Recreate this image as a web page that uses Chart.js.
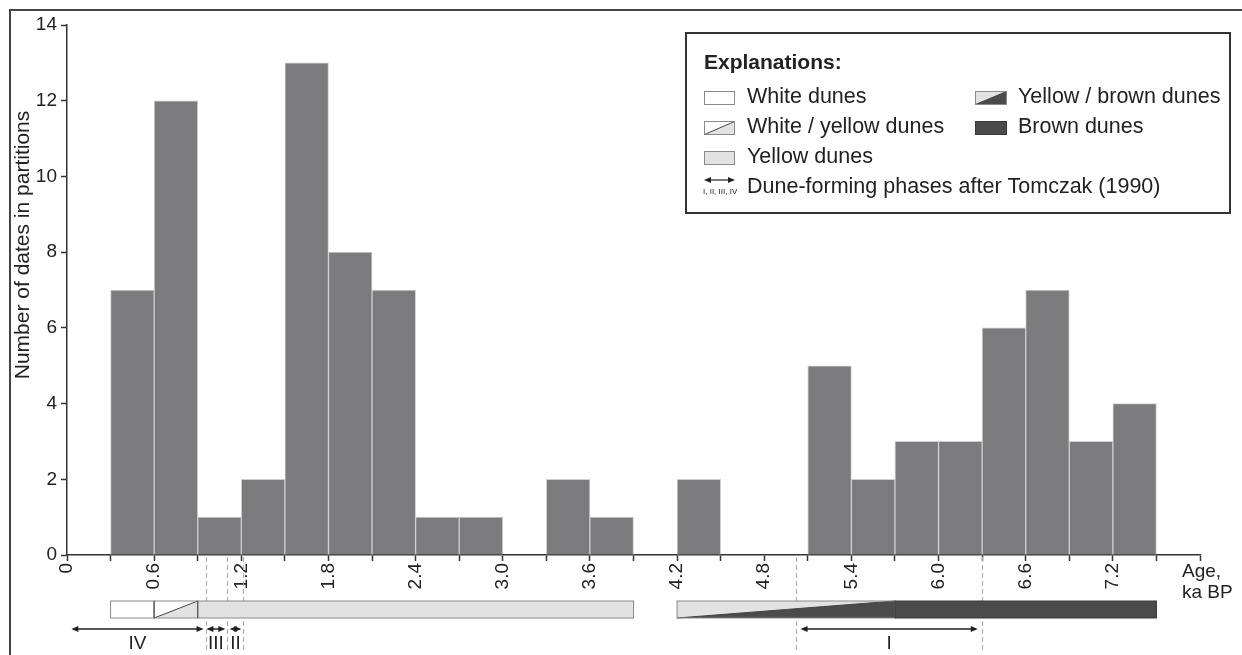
<!DOCTYPE html>
<html>
<head>
<meta charset="utf-8">
<script src="https://cdn.jsdelivr.net/npm/chart.js@4.4.0/dist/chart.umd.min.js"></script>
<style>
  body { margin: 0; background: #fff; }
  #wrap { width: 1242px; height: 655px; }
</style>
</head>
<body>
<div id="wrap"><canvas id="grafico"></canvas></div>
<script>
// dados
const binStarts = [0.3, 0.6, 0.9, 1.2, 1.5, 1.8, 2.1, 2.4, 2.7, 3.0, 3.3, 3.6, 3.9, 4.2, 4.5, 4.8, 5.1, 5.4, 5.7, 6.0, 6.3, 6.6, 6.9, 7.2];
const counts = [7, 12, 1, 2, 13, 8, 7, 1, 1, 0, 2, 1, 0, 2, 0, 0, 5, 2, 3, 3, 6, 7, 3, 4];
const binWidth = 0.3;

const xTicks = [0, 0.3, 0.6, 0.9, 1.2, 1.5, 1.8, 2.1, 2.4, 2.7, 3.0, 3.3, 3.6, 3.9, 4.2, 4.5, 4.8, 5.1, 5.4, 5.7, 6.0, 6.3, 6.6, 6.9, 7.2, 7.5, 7.8];
const xTickLabels = ['0', '', '0.6', '', '1.2', '', '1.8', '', '2.4', '', '3.0', '', '3.6', '', '4.2', '', '4.8', '', '5.4', '', '6.0', '', '6.6', '', '7.2', '', ''];
const yTicks = [0, 2, 4, 6, 8, 10, 12, 14];

// faixas de dunas sob o eixo: [inicio, fim, tipo]
const duneBands = [
  [0.3, 0.6, 'white'],
  [0.6, 0.9, 'whiteYellow'],
  [0.9, 3.9, 'yellow'],
  [4.2, 5.7, 'yellowBrown'],
  [5.7, 7.5, 'brown']
];
// fases de Tomczak (1990): [inicio, fim, nome]
const phases = [
  [0.03, 0.94, 'IV'],
  [0.96, 1.09, 'III'],
  [1.12, 1.2, 'II'],
  [5.05, 6.27, 'I']
];
const phaseLimits = [0.96, 1.1, 1.21, 5.02, 6.3];

const legendLeft = [
  ['white', 'White dunes'],
  ['whiteYellow', 'White / yellow dunes'],
  ['yellow', 'Yellow dunes']
];
const legendRight = [
  ['yellowBrown', 'Yellow / brown dunes'],
  ['brown', 'Brown dunes']
];

const FONTE = '"Liberation Sans", Arial, sans-serif';
const AMARELO = '#e2e2e2';
const MARROM = '#4b4b4b';

function desenharBloco(ctx, x1, y1, x2, y2, tipo) {
    ctx.save();
    ctx.lineWidth = 1;
    if (tipo == 'white' || tipo == 'yellow') {
        ctx.fillStyle = tipo == 'white' ? '#fff' : AMARELO;
        ctx.fillRect(x1, y1, x2 - x1, y2 - y1);
        ctx.strokeStyle = '#8a8a8a';
        ctx.strokeRect(x1, y1, x2 - x1, y2 - y1);
    } else if (tipo == 'whiteYellow' || tipo == 'yellowBrown') {
        ctx.fillStyle = tipo == 'whiteYellow' ? '#fff' : AMARELO;
        ctx.fillRect(x1, y1, x2 - x1, y2 - y1);
        ctx.fillStyle = tipo == 'whiteYellow' ? AMARELO : MARROM;
        ctx.beginPath();
        ctx.moveTo(x1, y2);
        ctx.lineTo(x2, y2);
        ctx.lineTo(x2, y1);
        ctx.closePath();
        ctx.fill();
        ctx.strokeStyle = '#444';
        ctx.beginPath();
        ctx.moveTo(x1, y2);
        ctx.lineTo(x2, y1);
        ctx.stroke();
        ctx.strokeStyle = '#8a8a8a';
        ctx.strokeRect(x1, y1, x2 - x1, y2 - y1);
    } else {
        ctx.fillStyle = MARROM;
        ctx.fillRect(x1, y1, x2 - x1, y2 - y1);
        ctx.strokeStyle = '#3a3a3a';
        ctx.strokeRect(x1, y1, x2 - x1, y2 - y1);
    }
    ctx.restore();
}

function seta(ctx, x1, x2, y) {
    ctx.beginPath();
    ctx.moveTo(x1 + 2, y);
    ctx.lineTo(x2 - 2, y);
    ctx.stroke();
    ctx.beginPath();
    ctx.moveTo(x1, y);
    ctx.lineTo(x1 + 7, y - 3);
    ctx.lineTo(x1 + 7, y + 3);
    ctx.closePath();
    ctx.fill();
    ctx.beginPath();
    ctx.moveTo(x2, y);
    ctx.lineTo(x2 - 7, y - 3);
    ctx.lineTo(x2 - 7, y + 3);
    ctx.closePath();
    ctx.fill();
}

const extras = {
    id: 'extras',
    afterDraw(chart) {
        const ctx = chart.ctx;
        const x = chart.scales.x;
        ctx.save();

        // moldura
        ctx.strokeStyle = '#444';
        ctx.lineWidth = 2;
        ctx.beginPath();
        ctx.moveTo(10, 655);
        ctx.lineTo(10, 10);
        ctx.lineTo(1242, 10);
        ctx.stroke();

        // linhas tracejadas
        ctx.strokeStyle = '#a8a8a8';
        ctx.lineWidth = 1;
        ctx.setLineDash([5, 3]);
        phaseLimits.forEach(v => {
            const px = Math.round(x.getPixelForValue(v)) + 0.5;
            ctx.beginPath();
            ctx.moveTo(px, 557);
            ctx.lineTo(px, 652);
            ctx.stroke();
        });
        ctx.setLineDash([]);

        // faixas
        duneBands.forEach(b => {
            desenharBloco(ctx, x.getPixelForValue(b[0]), 601, x.getPixelForValue(b[1]), 618, b[2]);
        });
        ctx.strokeStyle = '#555';
        ctx.lineWidth = 1.2;
        [0.6, 0.9].forEach(v => {
            const px = x.getPixelForValue(v);
            ctx.beginPath();
            ctx.moveTo(px, 601);
            ctx.lineTo(px, 618);
            ctx.stroke();
        });

        // setas das fases
        ctx.strokeStyle = '#222';
        ctx.fillStyle = '#222';
        ctx.lineWidth = 1.5;
        ctx.font = '19px ' + FONTE;
        ctx.textAlign = 'center';
        ctx.textBaseline = 'middle';
        phases.forEach(p => {
            const a = x.getPixelForValue(p[0]);
            const b = x.getPixelForValue(p[1]);
            seta(ctx, a, b, 629);
            ctx.fillText(p[2], (a + b) / 2, 644);
        });

        // titulo do eixo y
        ctx.save();
        ctx.translate(23, 245);
        ctx.rotate(-Math.PI / 2);
        ctx.font = '21px ' + FONTE;
        ctx.fillStyle = '#222';
        ctx.fillText('Number of dates in partitions', 0, 0);
        ctx.restore();

        // titulo do eixo x
        ctx.textAlign = 'left';
        ctx.font = '19px ' + FONTE;
        ctx.fillText('Age,', 1182, 572);
        ctx.fillText('ka BP', 1182, 593);

        // legenda
        ctx.fillStyle = '#fff';
        ctx.fillRect(686, 33, 544, 180);
        ctx.strokeStyle = '#333';
        ctx.lineWidth = 2;
        ctx.strokeRect(686, 33, 544, 180);
        ctx.fillStyle = '#222';
        ctx.font = 'bold 21px ' + FONTE;
        ctx.fillText('Explanations:', 704, 63);
        ctx.font = '21.5px ' + FONTE;
        legendLeft.forEach((item, i) => {
            const y = 97 + i * 30;
            desenharBloco(ctx, 704.5, y - 5.5, 734.5, y + 7.5, item[0]);
            ctx.fillStyle = '#222';
            ctx.fillText(item[1], 747, y);
        });
        legendRight.forEach((item, i) => {
            const y = 97 + i * 30;
            desenharBloco(ctx, 975.5, y - 5.5, 1006.5, y + 7.5, item[0]);
            ctx.fillStyle = '#222';
            ctx.fillText(item[1], 1018, y);
        });
        const yf = 187;
        ctx.strokeStyle = '#222';
        ctx.lineWidth = 1.2;
        seta(ctx, 704, 735, yf - 7);
        ctx.font = '8px ' + FONTE;
        ctx.fillText('I, II, III, IV', 703, yf + 5);
        ctx.font = '21.5px ' + FONTE;
        ctx.fillText('Dune-forming phases after Tomczak (1990)', 747, yf);

        ctx.restore();
    }
};

const ctx = document.getElementById('grafico').getContext('2d');
new Chart(ctx, {
    type: 'bar',
    data: {
        datasets: [{
            data: binStarts.map((s, i) => ({ x: s + binWidth / 2, y: counts[i] })),
            backgroundColor: '#7b7b7d',
            borderColor: '#cfcfcf',
            borderWidth: { top: 1, left: 1, right: 1, bottom: 0 },
            borderSkipped: 'bottom',
            barPercentage: 1,
            categoryPercentage: 1
        }]
    },
    options: {
        responsive: true,
        maintainAspectRatio: false,
        animation: false,
        layout: { padding: { left: 0, top: 25, right: 42, bottom: 0 } },
        plugins: { legend: { display: false }, tooltip: { enabled: false } },
        scales: {
            x: {
                type: 'linear',
                min: 0,
                max: 7.8,
                offset: false,
                afterBuildTicks: s => { s.ticks = xTicks.map(v => ({ value: v })); },
                afterFit: s => { s.height = 100; },
                grid: { drawOnChartArea: false, offset: false, tickLength: 6, tickColor: '#333', tickWidth: 1.5 },
                border: { color: '#333', width: 1.5 },
                ticks: {
                    autoSkip: false,
                    maxRotation: 90,
                    minRotation: 90,
                    padding: 2,
                    color: '#222',
                    font: { family: FONTE, size: 19 },
                    callback: (v, i) => xTickLabels[i]
                }
            },
            y: {
                min: 0,
                max: 14,
                afterBuildTicks: s => { s.ticks = yTicks.map(v => ({ value: v })); },
                afterFit: s => { s.width = 67; },
                grid: { drawOnChartArea: false, tickLength: 6, tickColor: '#333', tickWidth: 1.5 },
                border: { color: '#333', width: 1.5 },
                ticks: {
                    padding: 4,
                    color: '#222',
                    font: { family: FONTE, size: 19 }
                }
            }
        }
    },
    plugins: [extras]
});
</script>
</body>
</html>
